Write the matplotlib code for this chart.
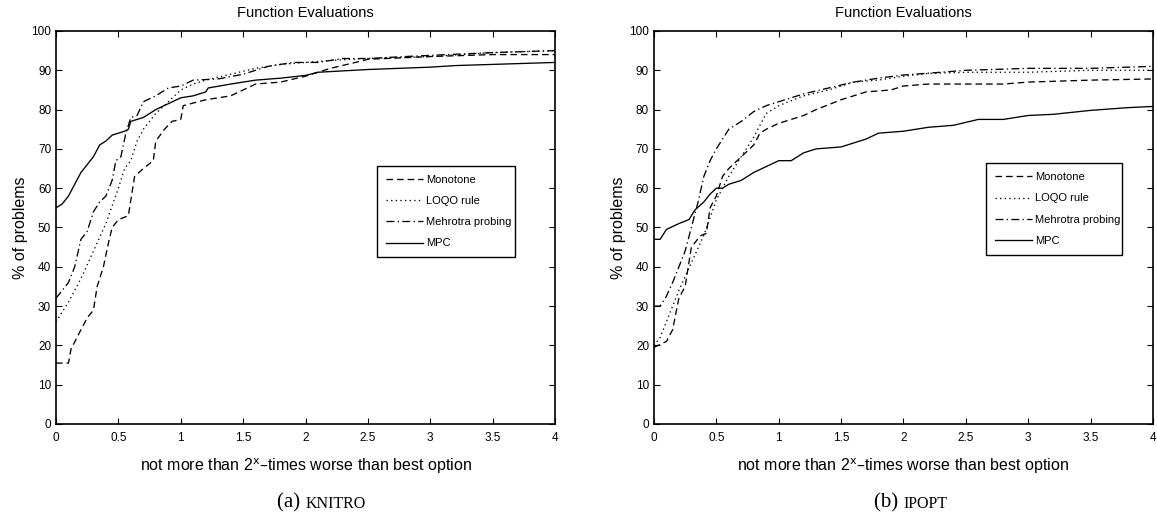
import matplotlib
matplotlib.use("Agg")
import matplotlib.pyplot as plt

plt.rcParams['font.family'] = ['Liberation Sans', 'DejaVu Sans']

# (a) KNITRO
kn_mono_x = [0, 0.1, 0.12, 0.2, 0.25, 0.3, 0.33, 0.38, 0.42, 0.45, 0.5, 0.58, 0.6, 0.63, 0.7, 0.78, 0.8, 0.87, 0.93, 1.0, 1.02, 1.2, 1.4, 1.5, 1.6, 1.8, 2.0, 2.2, 2.4, 2.5, 3.0, 3.5, 4.0]
kn_mono_y = [15.5, 15.5, 19, 24, 27, 29, 35, 40, 46, 50, 52, 53, 57, 63, 65, 67, 72, 75, 77, 77.5, 81, 82.5, 83.5, 85, 86.5, 87, 88.5, 90.5, 92, 92.8, 93.5, 94, 94]
kn_loqo_x = [0, 0.1, 0.2, 0.3, 0.4, 0.5, 0.55, 0.6, 0.65, 0.7, 0.8, 0.9, 1.0, 1.1, 1.2, 1.4, 1.6, 1.8, 2.0, 2.2, 2.5, 3.0, 3.5, 4.0]
kn_loqo_y = [26, 31, 37, 44, 51, 60, 65, 67, 72, 75, 79, 82, 85, 86.5, 87.5, 89, 90.5, 91.5, 92, 92.5, 93, 93.5, 94.5, 95]
kn_mehr_x = [0, 0.1, 0.15, 0.2, 0.25, 0.3, 0.35, 0.4, 0.45, 0.48, 0.52, 0.56, 0.6, 0.65, 0.7, 0.8, 0.9, 1.0, 1.1, 1.3, 1.5, 1.7, 1.9, 2.1, 2.3, 2.5, 2.8, 3.0, 3.5, 4.0]
kn_mehr_y = [32, 36, 40, 47, 49, 54, 56.5, 58, 62, 67, 68, 74, 78, 78.5, 82, 83.5, 85.5, 86, 87.5, 87.8, 89, 91, 92, 92, 93, 93, 93.5, 93.8, 94.5, 95]
kn_mpc_x = [0, 0.05, 0.1, 0.15, 0.2, 0.25, 0.3, 0.35, 0.4, 0.45, 0.5, 0.55, 0.58, 0.6, 0.7, 0.8, 0.9, 1.0, 1.1, 1.2, 1.22, 1.4, 1.5, 1.6, 1.8, 2.0, 2.1, 2.5, 3.0, 3.2, 3.5, 4.0]
kn_mpc_y = [55, 56, 58, 61, 64, 66, 68, 71, 72, 73.5, 74, 74.5, 75, 77, 78, 80, 81.5, 83, 83.5, 84.5, 85.5, 86.5, 87, 87.5, 88, 88.7, 89.5, 90.2, 90.8, 91.2, 91.5, 92]

# (b) IPOPT
ip_mono_x = [0, 0.1, 0.15, 0.2, 0.25, 0.3, 0.35, 0.38, 0.42, 0.45, 0.5, 0.55, 0.6, 0.65, 0.7, 0.8, 0.85, 0.9, 1.0, 1.2, 1.3, 1.5, 1.6, 1.7, 1.9, 2.0, 2.2, 2.5, 2.8, 3.0, 3.5, 4.0]
ip_mono_y = [19.5, 21, 24, 32, 35, 45, 47, 48, 48.5, 55, 58, 63, 65, 66.5, 68, 71, 74, 75, 76.5, 78.5, 80, 82.5, 83.5, 84.5, 85, 86, 86.5, 86.5, 86.5, 87, 87.5, 87.8]
ip_loqo_x = [0, 0.05, 0.1, 0.2, 0.3, 0.4, 0.5, 0.6, 0.7, 0.8, 0.9, 1.0, 1.2, 1.4, 1.6, 1.8, 2.0, 2.2, 2.5, 3.0, 3.5, 4.0]
ip_loqo_y = [20, 22, 26, 34, 41, 48, 57, 63, 68, 73, 79, 81, 83.5, 85, 87, 87.5, 88.5, 89.2, 89.5, 89.5, 90, 90]
ip_mehr_x = [0, 0.05, 0.1, 0.15, 0.2, 0.25, 0.3, 0.35, 0.4, 0.45, 0.5, 0.55, 0.6, 0.7, 0.8, 0.9, 1.0, 1.2, 1.4, 1.6, 1.8, 2.0, 2.3, 2.5, 3.0, 3.5, 4.0]
ip_mehr_y = [30, 30, 32.5, 36, 40, 44, 50, 56, 63, 67, 70, 72.5, 75, 77, 79.5, 81, 82, 84, 85.5, 87, 88, 88.8, 89.5, 90, 90.5, 90.5, 91]
ip_mpc_x = [0, 0.05, 0.1, 0.2, 0.28, 0.33, 0.4, 0.45, 0.5, 0.55, 0.6, 0.7, 0.75, 0.8, 0.9, 1.0, 1.1, 1.2, 1.3, 1.5, 1.6, 1.7, 1.8, 2.0, 2.2, 2.4, 2.6, 2.8, 3.0, 3.2, 3.5, 3.8, 4.0]
ip_mpc_y = [47, 47, 49.5, 51, 52, 54.5, 56.5, 58.5, 60, 60, 61, 62, 63, 64, 65.5, 67, 67, 69, 70, 70.5, 71.5, 72.5, 74, 74.5, 75.5, 76, 77.5, 77.5, 78.5, 78.8, 79.8, 80.5, 80.8]

labels = ['Monotone', 'LOQO rule', 'Mehrotra probing', 'MPC']
captions = [('(a) ', 'KNITRO'), ('(b) ', 'IPOPT')]

panels = [
    [(kn_mono_x, kn_mono_y), (kn_loqo_x, kn_loqo_y), (kn_mehr_x, kn_mehr_y), (kn_mpc_x, kn_mpc_y)],
    [(ip_mono_x, ip_mono_y), (ip_loqo_x, ip_loqo_y), (ip_mehr_x, ip_mehr_y), (ip_mpc_x, ip_mpc_y)],
]
styles = [(0, (5, 3)), (0, (1, 2.5)), (0, (6, 2.5, 1, 2.5)), '-']
legend_pos = [(2.53, 41.0, 1.19, 25.2), (2.62, 41.7, 1.18, 25.5)]

fig = plt.figure(figsize=(11.57, 5.21), dpi=100)
lefts = [0.0484, 0.5652]
serif = ['Liberation Serif', 'DejaVu Serif']

for i in range(2):
    ax = fig.add_axes([lefts[i], 0.1862, 0.4313, 0.7543])
    for (x, y), ls, lab in zip(panels[i], styles, labels):
        ax.plot(x, y, color='black', linestyle=ls, linewidth=0.95, label=lab)
    ax.set_xlim(0, 4)
    ax.set_ylim(0, 100)
    ax.set_xticks([0, 0.5, 1, 1.5, 2, 2.5, 3, 3.5, 4])
    ax.set_xticklabels(['0', '0.5', '1', '1.5', '2', '2.5', '3', '3.5', '4'])
    ax.set_yticks(range(0, 101, 10))
    ax.tick_params(direction='in', top=True, right=True, labelsize=8.5, length=4, width=0.8)
    ax.tick_params(axis='x', pad=6)
    for s in ax.spines.values():
        s.set_linewidth(1.2)
    ax.set_title('Function Evaluations', fontsize=10.5, pad=10)
    ax.set_ylabel('% of problems', fontsize=11.5, labelpad=2)
    ax.set_xlabel('not more than 2$^\\mathrm{x}$\u2013times worse than best option', fontsize=11.5, labelpad=9)
    leg = ax.legend(loc='lower left', bbox_to_anchor=legend_pos[i], bbox_transform=ax.transData,
                    mode='expand', fontsize=8, fancybox=False, framealpha=1, edgecolor='black',
                    handlelength=3.3, borderpad=0.8, labelspacing=1.0, handletextpad=0.3)
    leg.get_frame().set_linewidth(1.0)
    cx = lefts[i] + 0.4313 / 2
    fig.text(cx, 0.025, captions[i][0], ha='right', fontsize=15, family=serif)
    fig.text(cx, 0.025, captions[i][1], ha='left', fontsize=11.5, family=serif)

fig.savefig('out.png', dpi=100)
